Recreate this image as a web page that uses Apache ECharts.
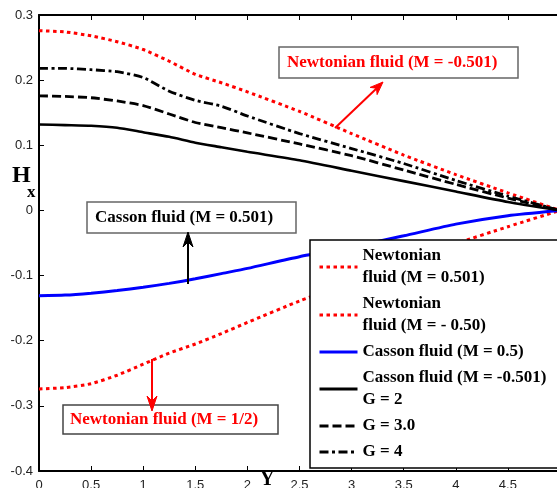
<!DOCTYPE html>
<html><head><meta charset="utf-8">
<script src="https://cdn.jsdelivr.net/npm/echarts@6/dist/echarts.min.js"></script>
<style>html,body{margin:0;padding:0;background:#fff}#c{width:557px;height:488px}</style>
</head><body><div id="c"></div>
<script>
// Data
const xValues = [0, 0.25, 0.5, 0.75, 1, 1.25, 1.5, 1.75, 2, 2.5, 3, 3.5, 4, 4.5, 5];
const newtonianPos = [-0.274, -0.272, -0.266, -0.253, -0.236, -0.219, -0.205, -0.189, -0.172, -0.139, -0.110, -0.080, -0.051, -0.025, 0];
const newtonianNeg = [0.276, 0.274, 0.268, 0.259, 0.247, 0.229, 0.209, 0.196, 0.182, 0.152, 0.118, 0.085, 0.055, 0.027, 0];
const cassonPos = [-0.131, -0.130, -0.127, -0.123, -0.118, -0.112, -0.105, -0.097, -0.089, -0.071, -0.056, -0.039, -0.021, -0.008, 0];
const cassonG2 = [0.132, 0.131, 0.130, 0.127, 0.120, 0.113, 0.104, 0.097, 0.090, 0.077, 0.061, 0.045, 0.029, 0.013, 0];
const cassonG3 = [0.176, 0.175, 0.173, 0.168, 0.161, 0.148, 0.135, 0.127, 0.119, 0.102, 0.084, 0.062, 0.040, 0.019, 0];
const cassonG4 = [0.218, 0.218, 0.216, 0.213, 0.204, 0.183, 0.169, 0.160, 0.145, 0.118, 0.095, 0.072, 0.046, 0.022, 0];
const seriesNames = ['Newtonian\nfluid (M = 0.501)', 'Newtonian\nfluid (M = - 0.50)', 'Casson fluid (M = 0.5)', 'Casson fluid (M = -0.501)\nG = 2', 'G = 3.0', 'G = 4'];
const xTicks = [0, 0.5, 1, 1.5, 2, 2.5, 3, 3.5, 4, 4.5, 5];
const yTicks = [-0.4, -0.3, -0.2, -0.1, 0, 0.1, 0.2, 0.3];

const pairs = arr => xValues.map((x, i) => [x, arr[i]]);
const serif = '"Liberation Serif", "Times New Roman", serif';
const sans = '"Liberation Sans", Arial, sans-serif';

function mk(name, data, color, width, type) {
  return {
    name, type: 'line', data: pairs(data), symbol: 'none', showSymbol: false, smooth: 0.2,
    lineStyle: { color, width, type, cap: 'butt' }, itemStyle: { color }, z: 2
  };
}

const chart = echarts.init(document.getElementById('c'), null, { renderer: 'canvas' });
const fmt = v => { const r = Math.round(v * 10) / 10; return r === 0 ? '0' : String(r); };

const axisLine = { show: true, onZero: false, lineStyle: { color: '#000', width: 2 } };
const axisTick = { show: true, inside: true, length: 5, lineStyle: { color: '#000', width: 1 } };

chart.setOption({
  animation: false,
  backgroundColor: '#fff',
  grid: { left: 39, top: 15, width: 521, height: 456, containLabel: false, outerBoundsMode: 'none' },
  xAxis: [{
    type: 'value', min: 0, max: 5, interval: 0.5, position: 'bottom',
    axisLine, axisTick,
    axisLabel: { show: true, margin: 8, color: '#222', fontSize: 13, fontFamily: sans,
      formatter: v => (xTicks.includes(Math.round(v * 10) / 10) && v < 4.9 ? String(Math.round(v * 10) / 10) : '') },
    splitLine: { show: false }
  }, {
    type: 'value', min: 0, max: 5, interval: 0.5, position: 'top',
    axisLine, axisTick,
    axisLabel: { show: false }, splitLine: { show: false }
  }],
  yAxis: [{
    type: 'value', min: -0.4, max: 0.3, interval: 0.1, position: 'left',
    axisLine, axisTick,
    axisLabel: { show: true, margin: 6, color: '#222', fontSize: 13, fontFamily: sans,
      formatter: v => (yTicks.some(t => Math.abs(t - v) < 1e-6) ? fmt(v) : '') },
    splitLine: { show: false }
  }],
  legend: {
    show: true, orient: 'vertical', left: 310, top: 240,
    padding: [5, 60, 5, 8], itemGap: 4, itemWidth: 38, itemHeight: 14,
    backgroundColor: '#fff', borderColor: '#000', borderWidth: 1.5, borderRadius: 0,
    itemStyle: { opacity: 0 },
    lineStyle: { width: 3 },
    textStyle: { fontFamily: serif, fontWeight: 'bold', fontSize: 17, color: '#000', lineHeight: 22 },
    data: seriesNames,
    z: 10
  },
  series: [
    mk(seriesNames[0], newtonianPos, '#ff0000', 3, [3.5, 3.5]),
    mk(seriesNames[1], newtonianNeg, '#ff0000', 3, [3.5, 3.5]),
    mk(seriesNames[2], cassonPos, '#0000ff', 3, 'solid'),
    mk(seriesNames[3], cassonG2, '#000', 2.6, 'solid'),
    mk(seriesNames[4], cassonG3, '#000', 2.8, [9, 4]),
    mk(seriesNames[5], cassonG4, '#000', 2.8, [9, 3.5, 3, 3.5])
  ],
  graphic: [
    // Axis titles
    { type: 'text', left: 12, top: 164, z: 20, style: { text: 'H', font: 'bold 24px ' + serif, fill: '#000' } },
    { type: 'text', left: 27, top: 184, z: 20, style: { text: 'x', font: 'bold 17px ' + serif, fill: '#000' } },
    { type: 'text', left: 260, top: 470, z: 20, style: { text: 'Y', font: 'bold 20px ' + serif, fill: '#000' } },
    // Annotation: top red
    { type: 'rect', z: 20, shape: { x: 279, y: 47, width: 239, height: 31 }, style: { fill: '#fff', stroke: '#666', lineWidth: 1.5 } },
    { type: 'text', z: 21, x: 287, y: 63, style: { text: 'Newtonian fluid (M = -0.501)', font: 'bold 17px ' + serif, fill: '#ff0000', textVerticalAlign: 'middle', verticalAlign: 'middle' } },
    { type: 'line', z: 20, shape: { x1: 335, y1: 128, x2: 377, y2: 88 }, style: { stroke: '#ff0000', lineWidth: 2 } },
    { type: 'polygon', z: 20, shape: { points: [[383, 82], [377.1, 94.6], [376.5, 88.2], [370.1, 87.4]] }, style: { fill: '#ff0000', stroke: '#ff0000', lineWidth: 1 } },
    // Annotation: Casson
    { type: 'rect', z: 20, shape: { x: 87, y: 202, width: 209, height: 31 }, style: { fill: '#fff', stroke: '#666', lineWidth: 1.5 } },
    { type: 'text', z: 21, x: 95, y: 218, style: { text: 'Casson fluid (M = 0.501)', font: 'bold 17px ' + serif, fill: '#000', textVerticalAlign: 'middle', verticalAlign: 'middle' } },
    { type: 'line', z: 20, shape: { x1: 188, y1: 284, x2: 188, y2: 241 }, style: { stroke: '#000', lineWidth: 2 } },
    { type: 'polygon', z: 22, shape: { points: [[188, 232], [193, 247], [188, 242], [183, 247]] }, style: { fill: '#000', stroke: '#000', lineWidth: 1 } },
    // Annotation: bottom red
    { type: 'rect', z: 20, shape: { x: 63, y: 405, width: 215, height: 29 }, style: { fill: '#fff', stroke: '#444', lineWidth: 1.5 } },
    { type: 'text', z: 21, x: 70, y: 420, style: { text: 'Newtonian fluid (M = 1/2)', font: 'bold 17px ' + serif, fill: '#ff0000', textVerticalAlign: 'middle', verticalAlign: 'middle' } },
    { type: 'line', z: 20, shape: { x1: 152, y1: 359, x2: 152, y2: 402 }, style: { stroke: '#ff0000', lineWidth: 2 } },
    { type: 'polygon', z: 22, shape: { points: [[152, 411], [157, 396], [152, 401], [147, 396]] }, style: { fill: '#ff0000', stroke: '#ff0000', lineWidth: 1 } }
  ]
});
</script>
</body></html>
